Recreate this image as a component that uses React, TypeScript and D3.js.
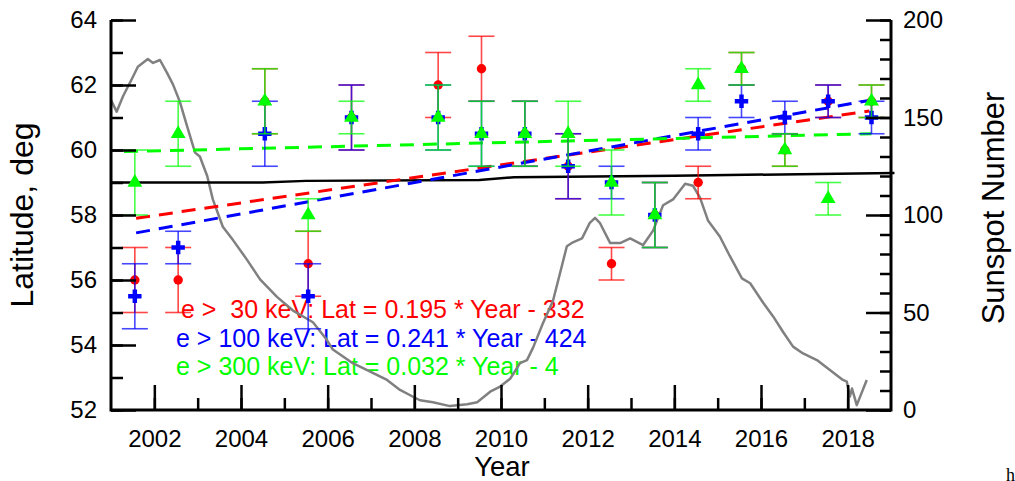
import React, { useEffect, useRef } from 'react'
import * as d3 from 'd3'

// observation epochs (mid-year)
const obsYears = [2001.55, 2002.55, 2004.55, 2005.55, 2006.55, 2008.55, 2009.55, 2010.55, 2011.55, 2012.55, 2013.55, 2014.55, 2015.55, 2016.55, 2017.55, 2018.55]

const lat30 = [56, 56, 61.5, 56.5, 61, 62, 62.5, 60.5, 59.5, 56.5, 58, 59, 62.5, 60, 61.5, 61.5]
const err30 = [1, 1, 1, 1, 1, 1, 1, 1, 1, 0.5, 1, 0.5, 0.5, 0.5, 0.5, 0.5]
const lat100 = [55.5, 57, 60.5, 55.5, 61, 61, 60.5, 60.5, 59.5, 59, 58, 60.5, 61.5, 61, 61.5, 61]
const err100 = [1, 0.5, 1, 1, 1, 1, 1, 1, 1, 0.5, 1, 0.5, 0.5, 0.5, 0.5, 0.5]
const lat300 = [59, 60.5, 61.5, 58, 61, 61, 60.5, 60.5, 60.5, 59, 58, 62, 62.5, 60, 58.5, 61.5]
const err300 = [1, 1, 1, 0.5, 0.5, 1, 1, 1, 1, 1, 1, 0.5, 0.5, 0.5, 0.5, 0.5]

// linear fits
const fitLabels = ['e >  30 keV: Lat = 0.195 * Year - 332', 'e > 100 keV: Lat = 0.241 * Year - 424', 'e > 300 keV: Lat = 0.032 * Year - 4']
const fitSlopes = [0.195, 0.241, 0.032]
const fitStartYears = [2001.58, 2001.58, 2001.3]
const fitStartLat = [57.9, 57.45, 59.95]
const fitEndYears = [2018.5, 2018.75, 2018.55]

// smoothed black curve
const meanYears = [2001, 2004.5, 2005.5, 2009.5, 2010.3, 2014, 2019.08]
const meanLat = [59.0, 59.0, 59.05, 59.08, 59.16, 59.21, 59.29]

// smoothed sunspot number
const ssnYears = [2001.0, 2001.13, 2001.28, 2001.51, 2001.62, 2001.85, 2001.97, 2002.13, 2002.29, 2002.43, 2002.59, 2002.75, 2002.94, 2003.05, 2003.22, 2003.35, 2003.58, 2003.82, 2004.14, 2004.44, 2004.83, 2005.2, 2005.66, 2005.98, 2006.12, 2006.58, 2006.91, 2007.37, 2007.67, 2007.97, 2008.13, 2008.43, 2008.82, 2009.22, 2009.45, 2009.75, 2009.98, 2010.21, 2010.44, 2010.6, 2010.74, 2010.97, 2011.2, 2011.36, 2011.52, 2011.66, 2011.87, 2012.05, 2012.17, 2012.28, 2012.52, 2012.75, 2012.98, 2013.28, 2013.51, 2013.74, 2013.97, 2014.25, 2014.43, 2014.59, 2014.78, 2015.05, 2015.28, 2015.56, 2015.75, 2016.05, 2016.28, 2016.51, 2016.74, 2016.97, 2017.29, 2017.59, 2017.89, 2017.98, 2018.05, 2018.1, 2018.21, 2018.44]
const ssnValues = [159, 153, 161, 171, 176, 180, 178, 179.5, 173, 167, 158, 146, 132, 130, 120, 108, 94, 87, 77, 67, 58, 51, 45, 36, 31, 24, 20.5, 15.4, 10.3, 6.8, 5, 4, 2, 3, 4, 9.4, 12, 16, 24, 25.6, 32, 44.6, 56, 70, 84, 86, 88, 96, 98.5, 96, 85.6, 85.6, 88, 84.6, 92, 105, 108, 116, 115, 109, 97, 89, 79, 67.5, 65, 55, 48, 40, 32.5, 29, 25.6, 20.5, 15.4, 14.5, 6.8, 11, 2.5, 15.4]

const latTicks = [52, 54, 56, 58, 60, 62, 64]
const ssnTicks = [0, 50, 100, 150, 200]
const yearTicks = [2002, 2004, 2006, 2008, 2010, 2012, 2014, 2016, 2018]

const W = 1015
const H = 481
const font = '"Liberation Sans", Arial, sans-serif'

export default function App() {
  const ref = useRef<SVGSVGElement>(null)

  useEffect(() => {
    const svg = d3.select(ref.current)
    svg.selectAll('*').remove()

    const x = d3.scaleLinear().domain([2001, 2019]).range([111, 891])
    const y = d3.scaleLinear().domain([52, 64]).range([410, 20])
    const y2 = d3.scaleLinear().domain([0, 200]).range([410, 20])

    const series = [
      { color: '#ff0000', values: lat30, errs: err30, shape: d3.symbolCircle, size: 70 },
      { color: '#0000ff', values: lat100, errs: err100, shape: d3.symbolCross, size: 100 },
      { color: '#00ff00', values: lat300, errs: err300, shape: d3.symbolTriangle, size: 95 },
    ]

    // fit equations
    const legendX = [181, 176, 176]
    const legendY = [318, 347, 375]
    fitLabels.forEach((t, i) => {
      svg.append('text').text(t).attr('x', legendX[i]).attr('y', legendY[i])
        .attr('fill', series[i].color).attr('font-family', font).attr('font-size', 25)
        .style('white-space', 'pre')
    })

    // sunspot curve
    const ssnLine = d3.line<number>().x((d, i) => x(ssnYears[i])).y(d => y2(d))
    svg.append('path').attr('d', ssnLine(ssnValues)).attr('fill', 'none')
      .attr('stroke', '#808080').attr('stroke-width', 2.5).attr('stroke-linejoin', 'round')

    // black curve
    const meanLine = d3.line<number>().x((d, i) => x(meanYears[i])).y(d => y(d))
    svg.append('path').attr('d', meanLine(meanLat)).attr('fill', 'none')
      .attr('stroke', '#000').attr('stroke-width', 2.5)

    // dashed fits
    fitSlopes.forEach((s, i) => {
      const y0 = fitStartLat[i]
      const y1 = y0 + s * (fitEndYears[i] - fitStartYears[i])
      svg.append('line')
        .attr('x1', x(fitStartYears[i])).attr('y1', y(y0))
        .attr('x2', x(fitEndYears[i])).attr('y2', y(y1))
        .attr('stroke', series[i].color).attr('stroke-width', 3)
        .attr('stroke-dasharray', '14 9')
    })

    // error bars + markers
    series.forEach(s => {
      const g = svg.append('g')
      obsYears.forEach((yr, i) => {
        const cx = x(yr)
        const top = y(s.values[i] + s.errs[i])
        const bot = y(s.values[i] - s.errs[i])
        const eg = g.append('g').attr('stroke', s.color).attr('stroke-width', 1.6).attr('stroke-opacity', 0.72)
        eg.append('line').attr('x1', cx).attr('x2', cx).attr('y1', top).attr('y2', bot)
        eg.append('line').attr('x1', cx - 13).attr('x2', cx + 13).attr('y1', top).attr('y2', top)
        eg.append('line').attr('x1', cx - 13).attr('x2', cx + 13).attr('y1', bot).attr('y2', bot)
      })
      g.selectAll('path.m').data(s.values).join('path').attr('class', 'm')
        .attr('d', d3.symbol().type(s.shape).size(s.size)())
        .attr('transform', (d, i) => `translate(${x(obsYears[i])},${y(d)})`)
        .attr('fill', s.color)
    })

    // axes
    const styleAxis = (g: any) => {
      g.select('.domain').remove()
      g.selectAll('line').attr('stroke', '#000').attr('stroke-width', 2.5)
      g.selectAll('text').attr('font-family', font).attr('font-size', 24).attr('fill', '#000')
    }

    svg.append('g').attr('transform', 'translate(111,0)')
      .call(d3.axisLeft(y).tickValues(y.ticks(12)).tickSize(-12).tickFormat(() => ''))
      .call(styleAxis)
    svg.append('g').attr('transform', 'translate(111,0)')
      .call(d3.axisLeft(y).tickValues(latTicks).tickSize(-25).tickPadding(14).tickFormat(d3.format('d')))
      .call(styleAxis)

    svg.append('g').attr('transform', 'translate(891,0)')
      .call(d3.axisRight(y2).tickValues(y2.ticks(20)).tickSize(-11).tickFormat(() => ''))
      .call(styleAxis)
    svg.append('g').attr('transform', 'translate(891,0)')
      .call(d3.axisRight(y2).tickValues(ssnTicks).tickSize(-25).tickPadding(12).tickFormat(d3.format('d')))
      .call(styleAxis)

    svg.append('g').attr('transform', 'translate(0,410)')
      .call(d3.axisBottom(x).tickValues(x.ticks(18).filter(d => d > 2001 && d < 2019)).tickSize(-12).tickFormat(() => ''))
      .call(styleAxis)
    svg.append('g').attr('transform', 'translate(0,410)')
      .call(d3.axisBottom(x).tickValues(yearTicks).tickSize(-25).tickPadding(20).tickFormat(d3.format('d')))
      .call(styleAxis)

    // axis lines
    svg.append('path').attr('d', `M111,20V410H891V20`).attr('fill', 'none')
      .attr('stroke', '#000').attr('stroke-width', 3)

    // titles
    svg.append('text').text('Latitude, deg').attr('transform', 'translate(33,215) rotate(-90)')
      .attr('text-anchor', 'middle').attr('font-family', font).attr('font-size', 32)
    svg.append('text').text('Sunspot Number').attr('transform', 'translate(1004,208) rotate(-90)')
      .attr('text-anchor', 'middle').attr('font-family', font).attr('font-size', 31)
    svg.append('text').text('Year').attr('x', 502).attr('y', 476)
      .attr('text-anchor', 'middle').attr('font-family', font).attr('font-size', 27.5)
    svg.append('text').text('h').attr('x', 1006).attr('y', 481)
      .attr('font-family', '"Liberation Serif", serif').attr('font-size', 18)
  }, [])

  return (
    <svg ref={ref} width={W} height={H}
      style={{ position: 'absolute', left: 0, top: 0, background: '#fff', overflow: 'hidden' }} />
  )
}
